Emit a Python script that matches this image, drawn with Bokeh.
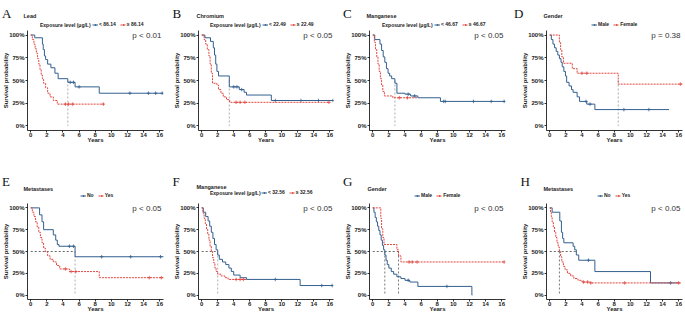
import numpy as np
from bokeh.plotting import figure
from bokeh.layouts import row, column
from bokeh.models import Label, Legend, LegendItem, FixedTicker, NumeralTickFormatter, Range1d
from bokeh.embed import file_html
from bokeh.resources import INLINE

YEAR_TICKS = [0, 2, 4, 6, 8, 10, 12, 14, 16]
PCT_TICKS = [0, 0.25, 0.5, 0.75, 1.0]

# ---------------- Panel A : Lead ----------------
A_low_t = [0, 0.5, 1.45, 1.55, 1.7, 1.85, 2.1, 2.5, 3.0, 3.4, 4.6, 5.5, 8.5, 16.4]
A_low_s = [1.0, 0.97, 0.90, 0.84, 0.77, 0.73, 0.68, 0.64, 0.58, 0.52, 0.48, 0.43, 0.36, 0.36]
A_low_c = [4.9, 5.3, 6.0, 12.3, 14.6, 15.5, 16.3]
A_high_t = [0, 0.2, 0.4, 0.55, 0.7, 0.85, 1.0, 1.15, 1.3, 1.45, 1.6, 1.85, 2.1, 2.4, 2.8, 3.3, 9.1]
A_high_s = [1.0, 0.95, 0.90, 0.85, 0.80, 0.74, 0.68, 0.62, 0.56, 0.52, 0.47, 0.42, 0.36, 0.32, 0.28, 0.24, 0.24]
A_high_c = [4.3, 4.7, 5.2, 9.0]

# ---------------- Panel B : Chromium ----------------
B_low_t = [0, 0.4, 1.1, 1.45, 1.6, 1.75, 1.9, 2.1, 3.45, 4.7, 5.3, 5.6, 8.7, 16.5]
B_low_s = [1.0, 0.97, 0.93, 0.86, 0.78, 0.68, 0.60, 0.55, 0.43, 0.40, 0.37, 0.34, 0.28, 0.28]
B_low_c = [4.0, 4.4, 5.0, 9.2, 12.4, 14.6, 16.4]
B_high_t = [0, 0.3, 0.5, 0.7, 0.9, 1.05, 1.2, 1.35, 1.9, 2.1, 2.4, 2.7, 3.1, 3.5, 16.0]
B_high_s = [1.0, 0.95, 0.90, 0.84, 0.77, 0.68, 0.58, 0.47, 0.45, 0.40, 0.36, 0.32, 0.29, 0.26, 0.26]
B_high_c = [4.3, 4.8, 5.4, 15.9]

# ---------------- Panel C : Manganese ----------------
C_low_t = [0, 0.25, 0.9, 1.1, 1.3, 1.5, 1.7, 1.9, 2.1, 2.35, 2.75, 3.0, 4.0, 4.7, 5.6, 8.4, 16.4]
C_low_s = [1.0, 0.95, 0.90, 0.83, 0.76, 0.70, 0.63, 0.58, 0.55, 0.52, 0.47, 0.36, 0.35, 0.33, 0.31, 0.27, 0.27]
C_low_c = [4.4, 5.2, 8.8, 9.0, 12.5, 14.7, 16.3]
C_high_t = [0, 0.2, 0.35, 0.5, 0.65, 0.8, 0.95, 1.1, 1.25, 1.45, 2.5, 5.6]
C_high_s = [1.0, 0.92, 0.84, 0.76, 0.68, 0.60, 0.52, 0.45, 0.38, 0.33, 0.31, 0.31]
C_high_c = [3.3, 4.3]

# ---------------- Panel D : Gender ----------------
D_male_t = [0, 0.2, 0.4, 0.6, 0.8, 1.0, 1.2, 1.4, 1.55, 1.75, 1.95, 2.1, 2.4, 2.7, 2.9, 3.4, 3.7, 4.6, 5.6, 14.8]
D_male_s = [1.0, 0.95, 0.90, 0.86, 0.82, 0.78, 0.74, 0.70, 0.65, 0.60, 0.55, 0.48, 0.44, 0.40, 0.37, 0.32, 0.27, 0.24, 0.18, 0.18]
D_male_c = [4.5, 5.0, 9.2, 12.3]
D_female_t = [0, 1.2, 1.35, 1.5, 1.7, 2.8, 3.4, 8.5, 16.5]
D_female_s = [1.0, 0.92, 0.84, 0.76, 0.69, 0.63, 0.58, 0.46, 0.46]
D_female_c = [4.0, 4.6, 16.2]

# ---------------- Panel E : Metastases ----------------
E_no_t = [0, 1.1, 1.4, 1.6, 2.8, 3.1, 3.3, 3.5, 5.5, 16.5]
E_no_s = [1.0, 0.92, 0.84, 0.75, 0.69, 0.63, 0.58, 0.56, 0.44, 0.44]
E_no_c = [4.8, 5.3, 8.8, 12.4, 16.1]
E_yes_t = [0, 0.2, 0.4, 0.6, 0.8, 1.0, 1.2, 1.4, 1.6, 1.8, 2.1, 2.4, 2.8, 3.2, 3.6, 4.8, 8.5, 16.5]
E_yes_s = [1.0, 0.95, 0.90, 0.84, 0.78, 0.72, 0.66, 0.60, 0.54, 0.50, 0.45, 0.41, 0.38, 0.34, 0.30, 0.27, 0.20, 0.20]
E_yes_c = [4.3, 5.0, 5.6, 14.7, 16.2]

# ---------------- Panel F : Manganese ----------------
F_low_t = [0, 0.2, 0.5, 0.8, 1.0, 1.2, 1.4, 1.6, 1.8, 2.0, 2.2, 2.6, 3.0, 3.4, 3.7, 4.0, 4.8, 5.6, 12.3, 16.3]
F_low_s = [1.0, 0.95, 0.90, 0.85, 0.79, 0.72, 0.65, 0.58, 0.52, 0.46, 0.41, 0.38, 0.35, 0.31, 0.27, 0.23, 0.20, 0.18, 0.11, 0.11]
F_low_c = [9.2, 15.0, 16.3]
F_high_t = [0, 0.15, 0.3, 0.45, 0.6, 0.75, 0.9, 1.05, 1.2, 1.35, 1.5, 1.65, 1.8, 2.0, 2.4, 2.9, 3.3, 5.6]
F_high_s = [1.0, 0.94, 0.88, 0.82, 0.76, 0.70, 0.63, 0.56, 0.50, 0.43, 0.37, 0.31, 0.27, 0.24, 0.22, 0.20, 0.18, 0.18]
F_high_c = [4.3, 4.8, 5.2]

# ---------------- Panel G : Gender ----------------
G_male_t = [0, 0.15, 0.3, 0.45, 0.6, 0.75, 0.9, 1.05, 1.2, 1.35, 1.5, 1.65, 1.8, 2.0, 2.3, 2.6, 3.0, 3.5, 4.0, 4.6, 5.6, 12.3, 12.35]
G_male_s = [1.0, 0.95, 0.89, 0.84, 0.79, 0.74, 0.69, 0.63, 0.57, 0.52, 0.46, 0.40, 0.35, 0.31, 0.27, 0.24, 0.21, 0.19, 0.17, 0.15, 0.10, 0.0, 0.0]
G_male_c = [4.4, 9.2]
G_female_t = [0, 1.0, 1.1, 1.25, 1.4, 3.0, 3.2, 3.5, 16.3]
G_female_s = [1.0, 0.88, 0.76, 0.66, 0.58, 0.52, 0.45, 0.38, 0.38]
G_female_c = [4.5, 4.9, 5.5, 16.3]

# ---------------- Panel H : Metastases ----------------
H_no_t = [0, 0.3, 1.25, 1.45, 1.6, 1.75, 2.9, 3.1, 3.3, 3.6, 5.6, 12.5, 16.0]
H_no_s = [1.0, 0.95, 0.85, 0.72, 0.65, 0.60, 0.56, 0.52, 0.46, 0.40, 0.27, 0.14, 0.14]
H_no_c = [4.8, 15.0]
H_yes_t = [0, 0.1, 0.2, 0.3, 0.45, 0.6, 0.75, 0.9, 1.05, 1.2, 1.35, 1.5, 1.7, 1.9, 2.2, 2.6, 3.0, 3.5, 4.0, 5.0, 16.3]
H_yes_s = [1.0, 0.95, 0.90, 0.84, 0.78, 0.72, 0.66, 0.60, 0.55, 0.50, 0.44, 0.38, 0.33, 0.29, 0.25, 0.22, 0.19, 0.17, 0.15, 0.14, 0.14]
H_yes_c = [4.2, 4.7, 5.1, 9.3, 16.0]

LETTERS = ["A", "B", "C", "D", "E", "F", "G", "H"]
TITLES = ["Lead", "Chromium", "Manganese", "Gender", "Metastases", "Manganese", "Gender", "Metastases"]
LEGEND_TITLES = ["Exposure level (\u03bcg/L)", "Exposure level (\u03bcg/L)", "Exposure level (\u03bcg/L)", "",
                 "", "Exposure level (\u03bcg/L)", "", ""]
STRATA_LABELS = [["< 86.14", "\u2265 86.14"], ["< 22.49", "\u2265 22.49"], ["< 46.67", "\u2265 46.67"],
                 ["Male", "Female"], ["No", "Yes"], ["< 32.56", "\u2265 32.56"], ["Male", "Female"], ["No", "Yes"]]
P_VALUES = ["p < 0.01", "p < 0.05", "p < 0.05", "p = 0.38", "p < 0.05", "p < 0.05", "p < 0.05", "p < 0.05"]

CURVES = [
    ((A_low_t, A_low_s, A_low_c), (A_high_t, A_high_s, A_high_c)),
    ((B_low_t, B_low_s, B_low_c), (B_high_t, B_high_s, B_high_c)),
    ((C_low_t, C_low_s, C_low_c), (C_high_t, C_high_s, C_high_c)),
    ((D_male_t, D_male_s, D_male_c), (D_female_t, D_female_s, D_female_c)),
    ((E_no_t, E_no_s, E_no_c), (E_yes_t, E_yes_s, E_yes_c)),
    ((F_low_t, F_low_s, F_low_c), (F_high_t, F_high_s, F_high_c)),
    ((G_male_t, G_male_s, G_male_c), (G_female_t, G_female_s, G_female_c)),
    ((H_no_t, H_no_s, H_no_c), (H_yes_t, H_yes_s, H_yes_c)),
]
MED_V = [[0], [0], [0], [1], [0], [0], [0, 1], [1]]
MED_H = [[], [], [], [], [0], [0], [0, 1], [0, 1]]

BLUE = "#33608F"
RED = "#E0463F"
RED_DASH = "2 1"
FONT = "Liberation Sans"

COL_W = [171, 171, 171, 172]
COL_LEFT = [27, 26, 27, 33]
FRAME_W = 136
HEADER_H = [28, 44]
ROW_SPEC = [dict(top=2, fh=100, bottom=27), dict(top=2, fh=96, bottom=16)]
LETTER_X = [1.5, 1.0, 0.5, 0.5, 1.5, 1.0, 0.5, 7.0]
LETTER_Y = [14.7, 14.7, 14.7, 14.7, 20.3, 20.3, 20.3, 20.3]
TITLE_X = [23, 25, 24, 30, 23, 25, 25, 30]
TITLE_Y = [12.5, 12.5, 12.5, 12.5, 13.0, 15.0, 13.0, 13.0]
LEGEND_TITLE_X = [39.5, 38.5, 39.5, 0, 0, 38.5, 0, 0]
LEGEND_X = [92, 91, 92, 78, 80, 90, 72, 84]
LEGEND_Y = [4.0, 4.0, 4.0, 4.0, 6.0, 9.0, 6.0, 6.0]
VCOL = ["#9a9a9a"] * 4 + ["#9a9a9a", "#9a9a9a", "#555555", "#555555"]
NAN = float("nan")


def surv_at(t, s, c):
    idx = np.searchsorted(np.asarray(t), np.asarray(c), side="right") - 1
    return np.asarray(s)[idx]


def median_of(t, s):
    t = np.asarray(t); s = np.asarray(s)
    return float(t[np.argmax(s <= 0.5)])


def txt(x, y, text, size, style="bold", font=FONT, align="left", baseline="middle", color="#222222"):
    return Label(x=x, y=y, x_units="screen", y_units="screen", text=text, text_font=font,
                 text_font_size=size, text_font_style=style, text_align=align,
                 text_baseline=baseline, text_color=color)


def make_header(i):
    col = i % 4
    w = COL_W[col]
    h = HEADER_H[i // 4]
    hp = figure(width=w, height=h, x_range=Range1d(0, w), y_range=Range1d(0, h),
                output_backend="svg", toolbar_location=None, min_border=0,
                x_axis_location=None, y_axis_location=None)
    hp.xgrid.visible = False
    hp.ygrid.visible = False
    hp.outline_line_color = None
    hp.add_layout(txt(LETTER_X[i], LETTER_Y[i], LETTERS[i], "13px", style="normal",
                      font="Liberation Serif", baseline="alphabetic", color="#111111"))
    hp.add_layout(txt(TITLE_X[i], TITLE_Y[i], TITLES[i], "5.5px"))
    if LEGEND_TITLES[i]:
        hp.add_layout(txt(LEGEND_TITLE_X[i], LEGEND_Y[i], LEGEND_TITLES[i], "5px"))
    items = []
    for k in range(2):
        color = BLUE if k == 0 else RED
        dash = "solid" if k == 0 else RED_DASH
        r1 = hp.line(x=[NAN], y=[NAN], line_color=color, line_width=1.0, line_dash=dash)
        r2 = hp.scatter(x=[NAN], y=[NAN], marker="cross", size=3.5, line_color=color, line_width=0.8)
        items.append(LegendItem(label=STRATA_LABELS[i][k], renderers=[r1, r2]))
    legend = Legend(items=items, orientation="horizontal", location=(LEGEND_X[i], LEGEND_Y[i] - 3),
                    label_text_font=FONT, label_text_font_size="5px", label_text_font_style="bold",
                    label_text_color="#222222", label_height=5, label_width=0, glyph_height=5,
                    glyph_width=6, label_standoff=1, spacing=4, padding=0, margin=0,
                    background_fill_alpha=0, border_line_alpha=0)
    hp.add_layout(legend)
    return hp


def make_panel(i):
    col = i % 4
    spec = ROW_SPEC[i // 4]
    w = COL_W[col]
    left = COL_LEFT[col]
    fh = spec["fh"]
    p = figure(width=w, height=spec["top"] + fh + spec["bottom"],
               x_range=Range1d(-0.4, 16.47), y_range=Range1d(-0.05, 1.05),
               output_backend="svg", toolbar_location=None,
               min_border_left=left, min_border_right=w - left - FRAME_W,
               min_border_top=spec["top"], min_border_bottom=spec["bottom"])
    p.xgrid.visible = False
    p.ygrid.visible = False
    p.outline_line_color = None

    p.xaxis.ticker = FixedTicker(ticks=YEAR_TICKS)
    p.yaxis.ticker = FixedTicker(ticks=PCT_TICKS)
    p.yaxis.formatter = NumeralTickFormatter(format="0%")
    p.xaxis.axis_label = "Years"
    p.yaxis.axis_label = "Survival probability"
    for ax in (p.xaxis, p.yaxis):
        ax.major_label_text_font = FONT
        ax.major_label_text_font_size = "6px"
        ax.major_label_text_font_style = "bold"
        ax.major_label_text_color = "#222222"
        ax.axis_label_text_font = FONT
        ax.axis_label_text_font_size = "6px"
        ax.axis_label_text_font_style = "bold"
        ax.axis_label_text_color = "#222222"
        ax.major_tick_out = 2
        ax.major_tick_in = 0
        ax.minor_tick_out = 0
        ax.minor_tick_in = 0
        ax.axis_line_width = 0.8
        ax.major_tick_line_width = 0.8
    p.yaxis.major_label_standoff = 1
    p.yaxis.axis_label_standoff = -3
    p.xaxis.major_label_standoff = 0
    p.xaxis.axis_label_standoff = -3

    curves = CURVES[i]
    meds = [median_of(c[0], c[1]) for c in curves]

    if MED_H[i]:
        hx = max(meds[k] for k in MED_H[i])
        p.segment(x0=[0], y0=[0.5], x1=[hx], y1=[0.5], line_color="#444444",
                  line_width=0.8, line_dash="2 2")
    for k in MED_V[i]:
        p.segment(x0=[meds[k]], y0=[0.5], x1=[meds[k]], y1=[0], line_color=VCOL[i],
                  line_width=0.8, line_dash="2 2")

    for k, (t, s, c) in enumerate(curves):
        color = BLUE if k == 0 else RED
        dash = "solid" if k == 0 else RED_DASH
        p.step(t, s, mode="after", line_color=color, line_width=1.0, line_dash=dash)
        p.scatter(c, surv_at(t, s, c), marker="cross", size=3.5, line_color=color, line_width=0.8)

    p.add_layout(txt(FRAME_W - 2, fh - 4.5, P_VALUES[i], "8px", style="normal",
                     align="right", color="#333333"))
    return p


headers = [make_header(i) for i in range(8)]
panels = [make_panel(i) for i in range(8)]
layout = column(row(*headers[:4]), row(*panels[:4]), row(*headers[4:]), row(*panels[4:]))

open("out.html", "w").write(file_html(layout, INLINE))
